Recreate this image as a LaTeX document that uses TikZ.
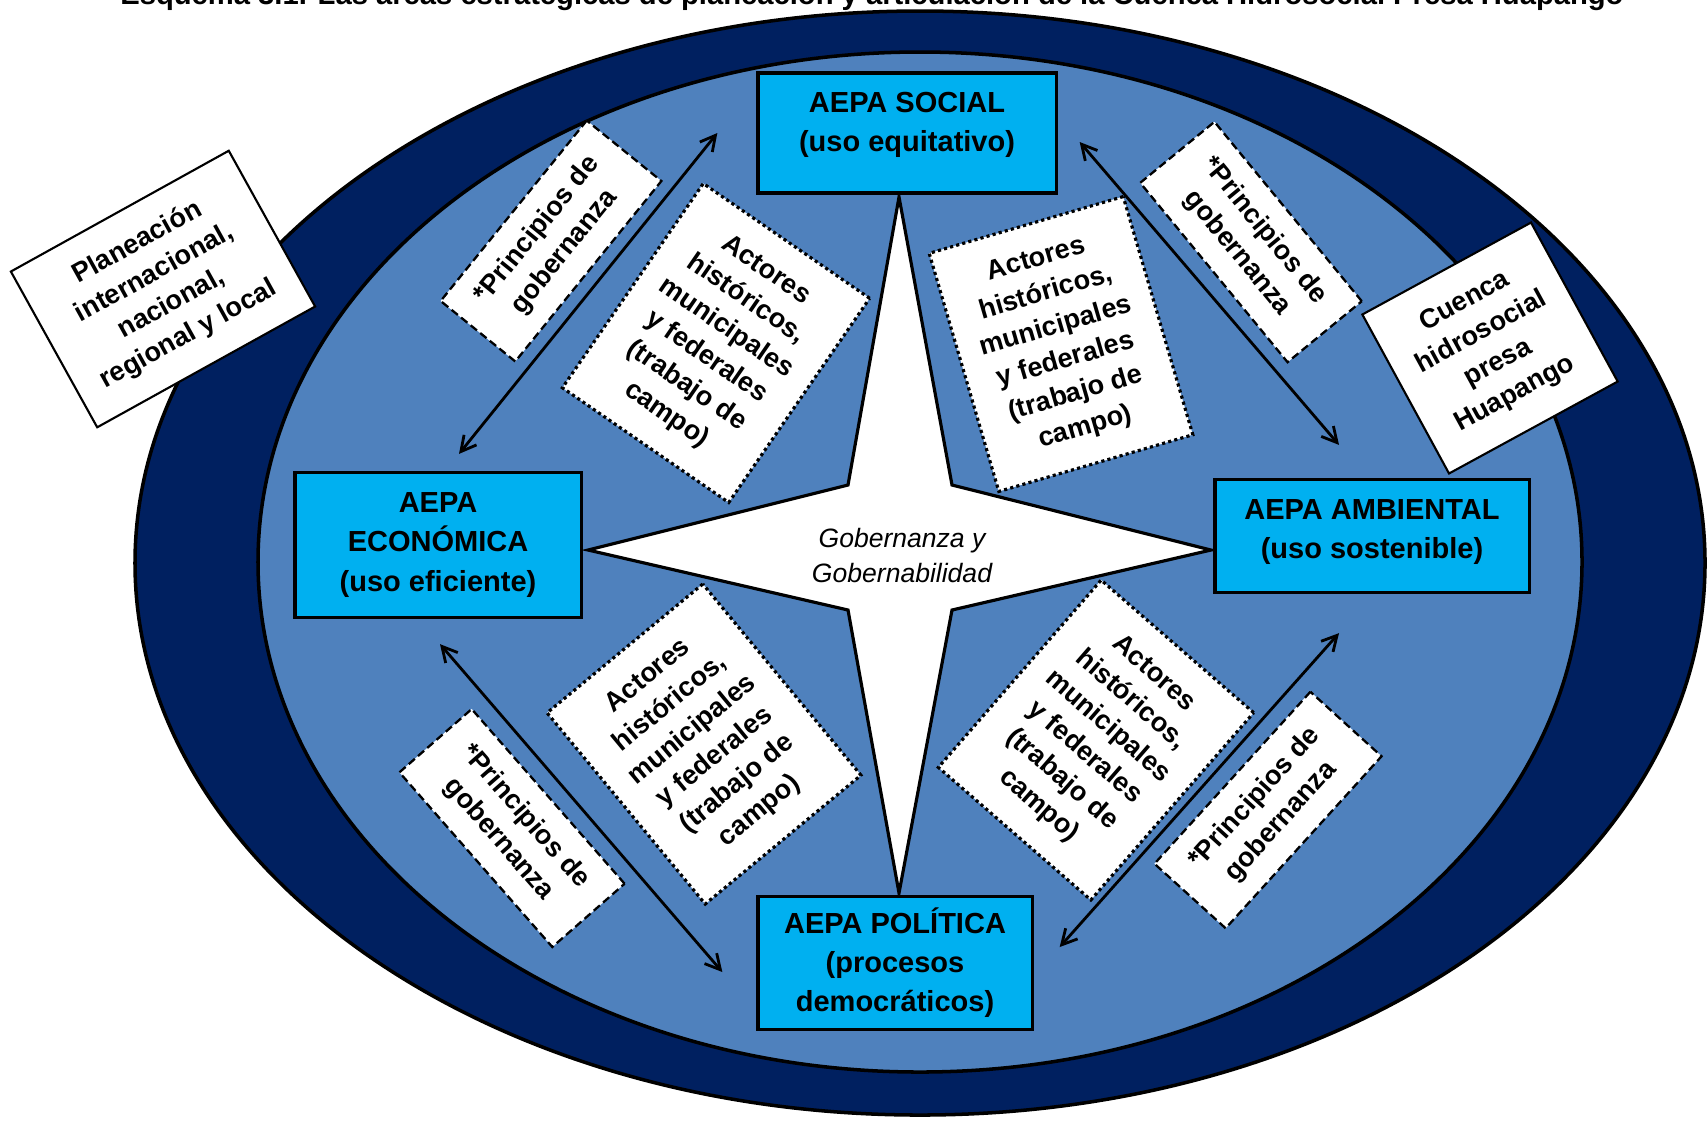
\documentclass[tikz,border=0pt]{standalone}
\usepackage{fontspec}
\setmainfont{Liberation Sans}
\usepackage{tikz}
\usetikzlibrary{arrows.meta,calc}
\definecolor{DeepNavy}{HTML}{002060}
\definecolor{MidBlue}{HTML}{4F81BD}
\definecolor{AepaCyan}{HTML}{00B0F0}
\newcommand\fsaepa{\fontsize{8.25pt}{11.1pt}\selectfont\bfseries}
\newcommand\fsbox{\fontsize{7.7pt}{9.95pt}\selectfont\bfseries}
\newcommand\fsstar{\fontsize{7.55pt}{9.95pt}\selectfont\itshape}
\newcommand\fstitle{\fontsize{8.3pt}{10pt}\selectfont\bfseries}

\begin{document}
\begin{tikzpicture}[x=0.01cm,y=-0.01cm,>={Straight Barb[length=1.5mm,width=1.6mm]},
    aepabox/.style={draw=black,fill=AepaCyan,line width=0.9pt,align=center,inner sep=0pt,font=\fsaepa},
    marco/.style={draw=black,fill=white,line width=0.6pt,align=center,inner sep=0pt,font=\fsbox},
    principios/.style={draw=black,fill=white,line width=0.65pt,dash pattern=on 2.3pt off 1.2pt,
      align=center,inner sep=0pt,font=\fsbox,minimum width=2.32cm,minimum height=0.96cm},
    actores/.style={draw=black,fill=white,line width=0.9pt,dash pattern=on 0.9pt off 0.9pt,
      align=center,inner sep=0pt,font=\fsbox,minimum width=2.02cm,minimum height=2.48cm},
    enlace/.style={<->,line width=0.8pt}]
  \useasboundingbox (0,0) rectangle (1707,1120);
  \fill[white] (0,0) rectangle (1707,1120);

  \node[font=\fstitle,anchor=base] (titulo) at (872,4)
    {Esquema 3.1. Las áreas estratégicas de planeación y articulación de la Cuenca Hidrosocial Presa Huapango};

  \draw[fill=DeepNavy,line width=1pt] (920,563) ellipse [x radius=785,y radius=552];
  \draw[fill=MidBlue,line width=1pt] (920,562) ellipse [x radius=662,y radius=510];

  \draw[fill=white,line width=0.9pt,line join=miter] (899,197) -- (952,485) -- (1211,550) -- (952,610)
    -- (899,893) -- (848,610) -- (588,550) -- (848,485) -- cycle;
  \node[font=\fsstar,align=center] (gobernanza) at (902,555) {Gobernanza y\\Gobernabilidad};

  \node[aepabox,minimum width=2.98cm,minimum height=1.2cm,text depth=6.3pt] (social) at (907,133)
    {AEPA SOCIAL\\(uso equitativo)};
  \node[aepabox,minimum width=2.86cm,minimum height=1.45cm] (economica) at (438,545)
    {AEPA\\ECONÓMICA\\(uso eficiente)};
  \node[aepabox,minimum width=3.14cm,minimum height=1.13cm,text depth=4pt] (ambiental) at (1372,536)
    {AEPA AMBIENTAL\\(uso sostenible)};
  \node[aepabox,minimum width=2.74cm,minimum height=1.33cm] (politica) at (895,963)
    {AEPA POLÍTICA\\(procesos\\democráticos)};

  \node[marco,rotate=29,minimum width=2.49cm,minimum height=1.78cm] (planeacion) at (163,289)
    {Planeación\\internacional,\\nacional,\\regional y local};
  \node[marco,rotate=28.6,minimum width=1.92cm,minimum height=1.81cm] (cuenca) at (1490,348)
    {Cuenca\\hidrosocial\\presa\\Huapango};

  \node[principios,rotate=51] (prinNO) at (551,241) {*Principios de\\gobernanza};
  \node[principios,rotate=-50.6] (prinNE) at (1251,242) {*Principios de\\gobernanza};
  \node[principios,rotate=-48.8] (prinSO) at (512,828) {*Principios de\\gobernanza};
  \node[principios,rotate=47.8] (prinSE) at (1268,810) {*Principios de\\gobernanza};

  \node[actores,rotate=-34.6] (actNO) at (716,343)
    {Actores\\históricos,\\municipales\\y federales\\(trabajo de\\campo)};
  \node[actores,rotate=16.3] (actNE) at (1061,344)
    {Actores\\históricos,\\municipales\\y federales\\(trabajo de\\campo)};
  \node[actores,rotate=39.6] (actSO) at (704,744)
    {Actores\\históricos,\\municipales\\y federales\\(trabajo de\\campo)};
  \node[actores,rotate=-41] (actSE) at (1096,740)
    {Actores\\históricos,\\municipales\\y federales\\(trabajo de\\campo)};

  \draw[enlace] ($(social.west)+(-39,0)$) -- ($(economica.north)+(21,-17)$);
  \draw[enlace] ($(social.east)+(22,9)$) -- ($(ambiental.north)+(-33,-33)$);
  \draw[enlace] ($(economica.south)+(2,25)$) -- ($(politica.west)+(-34,9)$);
  \draw[enlace] ($(ambiental.south)+(-33,39)$) -- ($(politica.east)+(26,-16)$);
\end{tikzpicture}
\end{document}
